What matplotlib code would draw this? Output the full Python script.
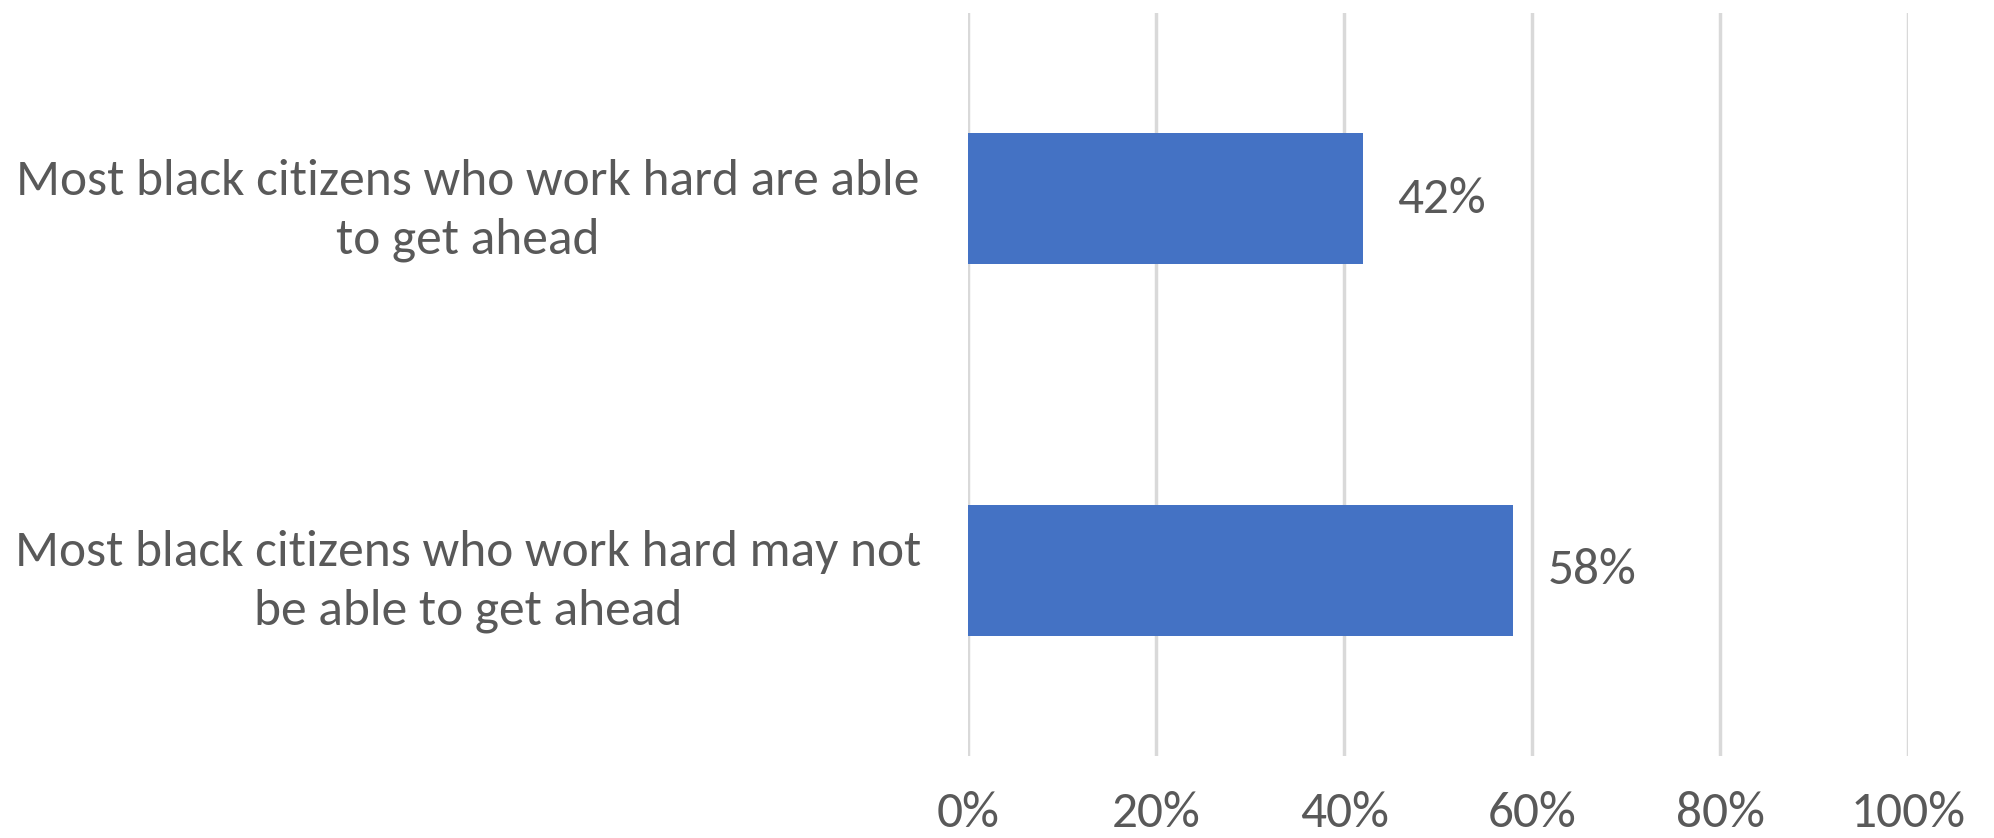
import matplotlib
matplotlib.use("Agg")
import matplotlib.pyplot as plt

# --- data ---
statements = [
    "Most black citizens who work hard are able\nto get ahead",
    "Most black citizens who work hard may not\nbe able to get ahead",
]
shares = [42, 58]
x_ticks = [0, 20, 40, 60, 80, 100]
x_tick_labels = ["0%", "20%", "40%", "60%", "80%", "100%"]

text_grey = "#595959"
plt.rcParams["font.family"] = ["Carlito", "DejaVu Sans"]

fig = plt.figure(figsize=(19.94, 8.38), dpi=100)
ax = fig.add_axes([0.4855, 0.0979, 0.4714, 0.8866])

bars = ax.barh(range(len(statements)), shares, height=0.353, color="#4472C4")
ax.bar_label(bars, labels=[f"{v}%" for v in shares], padding=25,
             fontsize=37, color=text_grey)

ax.set_xlim(0, 100)
ax.set_ylim(len(statements) - 0.5, -0.5)

ax.set_xticks(x_ticks)
ax.set_xticklabels(x_tick_labels, fontsize=37, color=text_grey)
ax.set_yticks(range(len(statements)))
ax.set_yticklabels(statements, fontsize=37, color=text_grey)
for lbl in ax.get_yticklabels():
    lbl.set_ha("center")
    lbl.set_multialignment("center")
    lbl.set_linespacing(1.4)

ax.tick_params(axis="x", length=0, pad=25)
ax.tick_params(axis="y", length=0, pad=360)

ax.grid(axis="x", color="#d9d9d9", linewidth=2.5)
ax.set_axisbelow(True)
for s in ax.spines.values():
    s.set_visible(False)

fig.savefig("out.png", dpi=100)
